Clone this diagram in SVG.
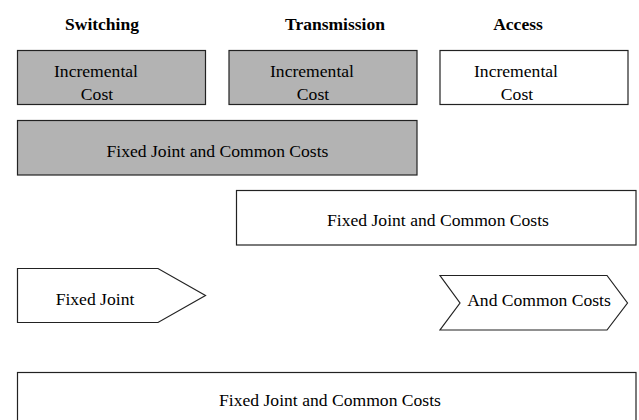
<svg xmlns="http://www.w3.org/2000/svg" width="639" height="420" viewBox="0 0 639 420">
<style>
text{font-family:"Liberation Serif","Times New Roman","DejaVu Serif",serif;font-size:17.6px;fill:#000;text-anchor:middle}
.h{font-weight:bold;font-size:17.5px}
.g{fill:#b3b3b3;stroke:#222;stroke-width:1.2}
.w{fill:#fff;stroke:#222;stroke-width:1.2}
</style>
<rect width="639" height="420" fill="#fff"/>
<g id="headings">
<text class="h" x="102" y="30">Switching</text>
<text class="h" x="335" y="30">Transmission</text>
<text class="h" x="518" y="30">Access</text>
</g>
<g id="switching-incremental">
<rect class="g" x="17.5" y="50.5" width="188" height="54"/>
<text x="96" y="77">Incremental</text>
<text x="97" y="100">Cost</text>
</g>
<g id="transmission-incremental">
<rect class="g" x="229" y="50.5" width="188" height="54"/>
<text x="312" y="77">Incremental</text>
<text x="313" y="100">Cost</text>
</g>
<g id="access-incremental">
<rect class="w" x="440" y="50.5" width="188" height="54"/>
<text x="516" y="77">Incremental</text>
<text x="517" y="100">Cost</text>
</g>
<g id="fixed-switching-transmission">
<rect class="g" x="17.5" y="120.5" width="399.5" height="54.5"/>
<text x="217.5" y="157">Fixed Joint and Common Costs</text>
</g>
<g id="fixed-transmission-access">
<rect class="w" x="236.5" y="190.5" width="399.5" height="54.5"/>
<text x="438" y="226">Fixed Joint and Common Costs</text>
</g>
<g id="fixed-joint">
<polygon class="w" points="17.5,268.5 158,268.5 205.5,295.5 158,322.5 17.5,322.5"/>
<text x="95" y="305">Fixed Joint</text>
</g>
<g id="and-common-costs">
<polygon class="w" points="440,275.5 607,275.5 627.5,303 607,330 440,330 460,303"/>
<text x="539" y="306">And Common Costs</text>
</g>
<g id="fixed-all">
<rect class="w" x="17.5" y="372.5" width="618.5" height="60"/>
<text x="330" y="406">Fixed Joint and Common Costs</text>
</g>
<g id="connectors"></g>
</svg>
